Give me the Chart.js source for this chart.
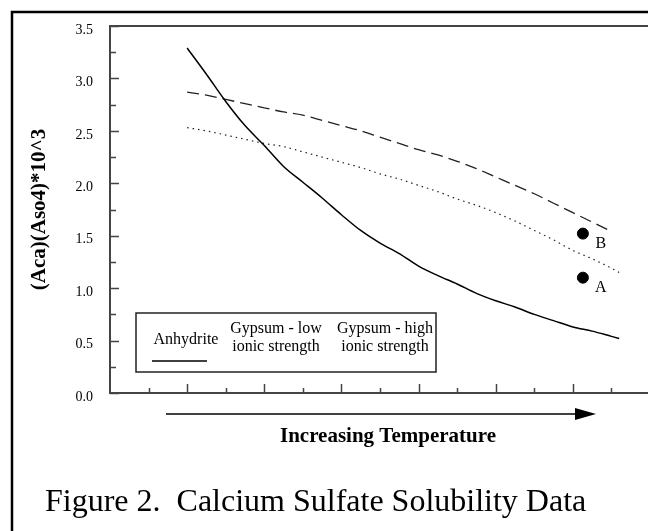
<!DOCTYPE html>
<html>
<head>
<meta charset="utf-8">
<title>Calcium Sulfate Solubility Data</title>
<script src="https://cdn.jsdelivr.net/npm/chart.js@4.4.1/dist/chart.umd.min.js"></script>
<style>
  html, body { margin: 0; padding: 0; background: #fff; overflow: hidden; }
  #chart { display: block; }
</style>
</head>
<body>
<canvas id="chart" width="660" height="531"></canvas>
<script>
// Data (x = position along the temperature axis, in tick units)
const temps = [2, 2.5, 3, 3.5, 4, 4.5, 5, 5.5, 6, 6.5, 7, 7.5, 8, 8.5, 9, 9.5, 10, 10.5, 11, 11.5, 12, 12.5, 13, 13.2];
const anhydrite = [3.29, 3.04, 2.78, 2.55, 2.36, 2.16, 2.01, 1.86, 1.70, 1.55, 1.43, 1.33, 1.21, 1.12, 1.04, 0.95, 0.88, 0.82, 0.75, 0.69, 0.63, 0.59, 0.54, 0.52];
const gypsumLow = [2.53, 2.50, 2.46, 2.42, 2.38, 2.35, 2.30, 2.25, 2.20, 2.15, 2.09, 2.04, 1.98, 1.92, 1.85, 1.79, 1.72, 1.64, 1.55, 1.46, 1.36, 1.28, 1.19, 1.15];
const gypsumHigh = [2.87, 2.84, 2.80, 2.76, 2.72, 2.68, 2.65, 2.60, 2.55, 2.50, 2.44, 2.38, 2.32, 2.27, 2.21, 2.14, 2.06, 1.98, 1.90, 1.81, 1.72, 1.63, 1.54, null];
const sampleX = [12.26, 12.26];
const sampleY = [1.10, 1.52];
const sampleLabels = ['A', 'B'];
const yTickLabels = ['0.0', '0.5', '1.0', '1.5', '2.0', '2.5', '3.0', '3.5'];
const xTicks = [1, 2, 3, 4, 5, 6, 7, 8, 9, 10, 11, 12, 13, 14];

const SERIF = "'Liberation Serif', 'Times New Roman', serif";

function pts(xs, ys) {
  return xs.map((x, i) => ({ x: x, y: ys[i] }));
}

// frame, axes decorations, legend box, labels
const decorations = {
  id: 'decorations',
  afterDraw(chart) {
    const ctx = chart.ctx;
    const area = chart.chartArea;
    const xs = chart.scales.x;
    const ys = chart.scales.y;
    ctx.save();

    // outer frame (runs off the right and bottom of the page)
    ctx.strokeStyle = '#000';
    ctx.lineWidth = 2.5;
    ctx.strokeRect(12, 12, 800, 800);

    // top edge and x axis line
    ctx.strokeStyle = '#444';
    ctx.lineWidth = 2;
    ctx.beginPath();
    ctx.moveTo(area.left, area.top);
    ctx.lineTo(chart.width, area.top);
    ctx.moveTo(area.left, area.bottom);
    ctx.lineTo(chart.width, area.bottom);
    ctx.stroke();

    // y tick marks, pointing inward
    ctx.lineWidth = 1.5;
    ctx.beginPath();
    ys.ticks.forEach(t => {
      const py = Math.round(ys.getPixelForValue(t.value)) + 0.5;
      const major = Math.abs(t.value * 2 - Math.round(t.value * 2)) < 1e-6;
      ctx.moveTo(area.left, py);
      ctx.lineTo(area.left + (major ? 9 : 6), py);
    });
    // x tick marks, pointing up
    xTicks.forEach(v => {
      const px = Math.round(xs.getPixelForValue(v)) + 0.5;
      ctx.moveTo(px, area.bottom);
      ctx.lineTo(px, area.bottom - (v % 2 === 0 ? 9 : 5));
    });
    ctx.stroke();

    // temperature arrow
    ctx.strokeStyle = '#000';
    ctx.fillStyle = '#000';
    ctx.lineWidth = 1.5;
    ctx.beginPath();
    ctx.moveTo(166, 414);
    ctx.lineTo(578, 414);
    ctx.stroke();
    ctx.beginPath();
    ctx.moveTo(575, 408);
    ctx.lineTo(596, 414);
    ctx.lineTo(575, 420);
    ctx.closePath();
    ctx.fill();

    ctx.textAlign = 'center';
    ctx.textBaseline = 'middle';
    ctx.font = 'bold 21px ' + SERIF;
    ctx.fillText('Increasing Temperature', 388, 437);

    ctx.textAlign = 'left';
    ctx.font = '32px ' + SERIF;
    ctx.fillText('Figure 2.  Calcium Sulfate Solubility Data', 45, 503);

    // legend box
    ctx.fillStyle = '#fff';
    ctx.fillRect(136, 313, 300, 59);
    ctx.strokeStyle = '#222';
    ctx.lineWidth = 1.5;
    ctx.strokeRect(136, 313, 300, 59);
    ctx.fillStyle = '#000';
    ctx.textAlign = 'center';
    ctx.font = '16px ' + SERIF;
    ctx.fillText('Anhydrite', 186, 340);
    ctx.fillText('Gypsum - low', 276, 329);
    ctx.fillText('ionic strength', 276, 347);
    ctx.fillText('Gypsum - high', 385, 329);
    ctx.fillText('ionic strength', 385, 347);
    ctx.strokeStyle = '#000';
    ctx.beginPath();
    ctx.moveTo(152, 361);
    ctx.lineTo(207, 361);
    ctx.stroke();

    // sample point labels
    const meta = chart.getDatasetMeta(3);
    meta.data.forEach((el, i) => {
      ctx.fillText(sampleLabels[i], el.x + 18, el.y + 10);
    });

    ctx.restore();
  }
};

new Chart(document.getElementById('chart'), {
  type: 'line',
  data: {
    datasets: [{
      label: 'Anhydrite',
      data: pts(temps, anhydrite),
      borderColor: '#000',
      borderWidth: 1.5,
      pointRadius: 0,
      cubicInterpolationMode: 'monotone'
    }, {
      label: 'Gypsum - low ionic strength',
      data: pts(temps, gypsumLow),
      borderColor: '#222',
      borderWidth: 1.2,
      borderDash: [1.5, 4],
      pointRadius: 0,
      cubicInterpolationMode: 'monotone'
    }, {
      label: 'Gypsum - high ionic strength',
      data: pts(temps, gypsumHigh),
      borderColor: '#222',
      borderWidth: 1.3,
      borderDash: [12, 6],
      pointRadius: 0,
      spanGaps: false,
      cubicInterpolationMode: 'monotone'
    }, {
      type: 'scatter',
      label: 'Samples',
      data: pts(sampleX, sampleY),
      backgroundColor: '#000',
      borderColor: '#000',
      pointRadius: 5.5,
      showLine: false
    }]
  },
  options: {
    responsive: false,
    animation: false,
    devicePixelRatio: 1,
    layout: { padding: { left: 0, top: 26, right: 10, bottom: 138 } },
    plugins: {
      legend: { display: false },
      tooltip: { enabled: false }
    },
    scales: {
      x: {
        type: 'linear',
        min: 0,
        max: 14,
        display: false
      },
      y: {
        min: 0,
        max: 3.5,
        afterFit(scale) { scale.width = 110; },
        grid: { display: false, drawTicks: false },
        border: { display: true, color: '#444', width: 2 },
        ticks: {
          stepSize: 0.25,
          padding: 17,
          labelOffset: 4,
          color: '#000',
          font: { family: SERIF, size: 14 },
          callback: (v) => {
            const k = v * 2;
            return Math.abs(k - Math.round(k)) < 1e-6 ? yTickLabels[Math.round(k)] : '';
          }
        },
        title: {
          display: true,
          text: '(Aca)(Aso4)*10^3',
          color: '#000',
          font: { family: SERIF, size: 21, weight: 'bold', lineHeight: 1.2 },
          padding: { top: 27, bottom: 0 }
        }
      }
    }
  },
  plugins: [decorations]
});
</script>
</body>
</html>
